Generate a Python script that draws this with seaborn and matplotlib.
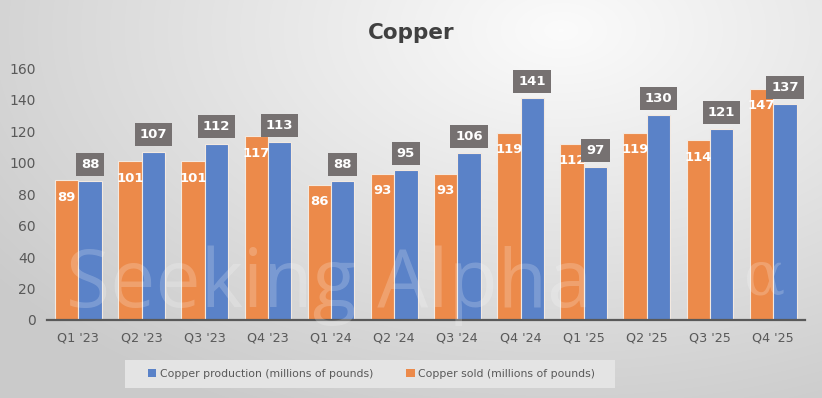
import numpy as np
import pandas as pd
import matplotlib
matplotlib.use("Agg")
import matplotlib.pyplot as plt
import seaborn as sns
from matplotlib.patches import Patch, Rectangle

quarters = ["Q1 '23", "Q2 '23", "Q3 '23", "Q4 '23", "Q1 '24", "Q2 '24",
            "Q3 '24", "Q4 '24", "Q1 '25", "Q2 '25", "Q3 '25", "Q4 '25"]
copper_sold = [89, 101, 101, 117, 86, 93, 93, 119, 112, 119, 114, 147]
copper_production = [88, 107, 112, 113, 88, 95, 106, 141, 97, 130, 121, 137]
sold_label = "Copper sold (millions of pounds)"
prod_label = "Copper production (millions of pounds)"
yticks = [0, 20, 40, 60, 80, 100, 120, 140, 160]

ORANGE = "#EC8A4A"
BLUE = "#5A82C8"

sns.set_theme(style="white")
plt.rcParams['font.family'] = ['DejaVu Sans']

df = pd.DataFrame({
    "quarter": quarters * 2,
    "value": copper_sold + copper_production,
    "series": [sold_label] * len(quarters) + [prod_label] * len(quarters),
})

fig = plt.figure(figsize=(8.22, 3.98), dpi=100)

# background radial gradient
bg = fig.add_axes([0, 0, 1, 1], zorder=-10)
h, w = 398, 822
yy, xx = np.mgrid[0:h, 0:w]
cx, cy = 560, 30
d = np.sqrt(((xx - cx) / 700.0) ** 2 + ((yy - cy) / 420.0) ** 2)
d = np.clip(d, 0, 1)
val = 0.985 - 0.19 * d
bg.imshow(np.dstack([val, val, val]), aspect="auto", extent=[0, 1, 0, 1], origin="upper")
bg.axis("off")

ax = fig.add_axes([0.057, 0.196, 0.922, 0.633])
ax.patch.set_alpha(0)

sns.barplot(data=df, x="quarter", y="value", hue="series",
            hue_order=[sold_label, prod_label],
            palette=[ORANGE, BLUE], saturation=1, width=0.74, gap=0.0,
            edgecolor="#f3e9e0", linewidth=0.8, legend=False, ax=ax)

ax.set_ylim(0, 160)
ax.set_xlim(-0.5, len(quarters) - 0.5)
ax.set_yticks(yticks)
ax.set_yticklabels([str(t) for t in yticks], fontsize=10, color="#595959")
ax.tick_params(axis="x", labelsize=9.2, colors="#595959", length=0, pad=8)
ax.tick_params(axis="y", length=0, pad=8)
ax.set_xlabel("")
ax.set_ylabel("")
for s in ["top", "right", "left"]:
    ax.spines[s].set_visible(False)
ax.spines["bottom"].set_color("#595959")
ax.spines["bottom"].set_linewidth(1.6)

# data labels
sold_bars = ax.containers[0]
prod_bars = ax.containers[1]
for bar, v in zip(sold_bars, copper_sold):
    x = bar.get_x() + bar.get_width() / 2
    ax.annotate(str(v), (x, bar.get_height()), xytext=(0, -12.5),
                textcoords="offset points", ha="center", va="center",
                color="white", fontsize=9.5, fontweight="bold", zorder=5)
for bar, v in zip(prod_bars, copper_production):
    x = bar.get_x() + bar.get_width() / 2
    ax.annotate(str(v), (x, bar.get_height()), xytext=(0, 12),
                textcoords="offset points", ha="center", va="center",
                color="white", fontsize=9.5, fontweight="bold", zorder=5,
                bbox=dict(boxstyle="square,pad=0.38", fc="#767171", ec="none"))

# watermark
fig.text(0.08, 0.229, "Seeking Alpha", fontsize=58, color="white", alpha=0.2,
         family="Open Sans", fontweight="normal", ha="left", va="baseline", zorder=20)
fig.text(0.905, 0.30, "\u03b1", fontsize=44, color="white", alpha=0.2,
         family="DejaVu Serif", ha="left", va="center", zorder=20)

# title
fig.text(0.5, 0.917, "Copper", ha="center", va="center", fontsize=15.5,
         fontweight="bold", color="#404040")

# legend box + legend
fig.patches.append(Rectangle((125 / 822, 1 - 388 / 398), 490 / 822, 28 / 398,
                             transform=fig.transFigure, facecolor="#e4e4e4",
                             edgecolor="none", zorder=1))
handles = [Patch(facecolor=BLUE, edgecolor="none"),
           Patch(facecolor=ORANGE, edgecolor="none")]
leg = fig.legend(handles, [prod_label, sold_label], loc="center",
                 bbox_to_anchor=(0.452, 0.06), ncol=2, frameon=False,
                 fontsize=7.8, handlelength=0.8, handleheight=0.8,
                 handletextpad=0.35, columnspacing=3.0, borderpad=0.3)
leg.set_zorder(5)
for t in leg.get_texts():
    t.set_color("#595959")

fig.savefig("out.png", dpi=100)
